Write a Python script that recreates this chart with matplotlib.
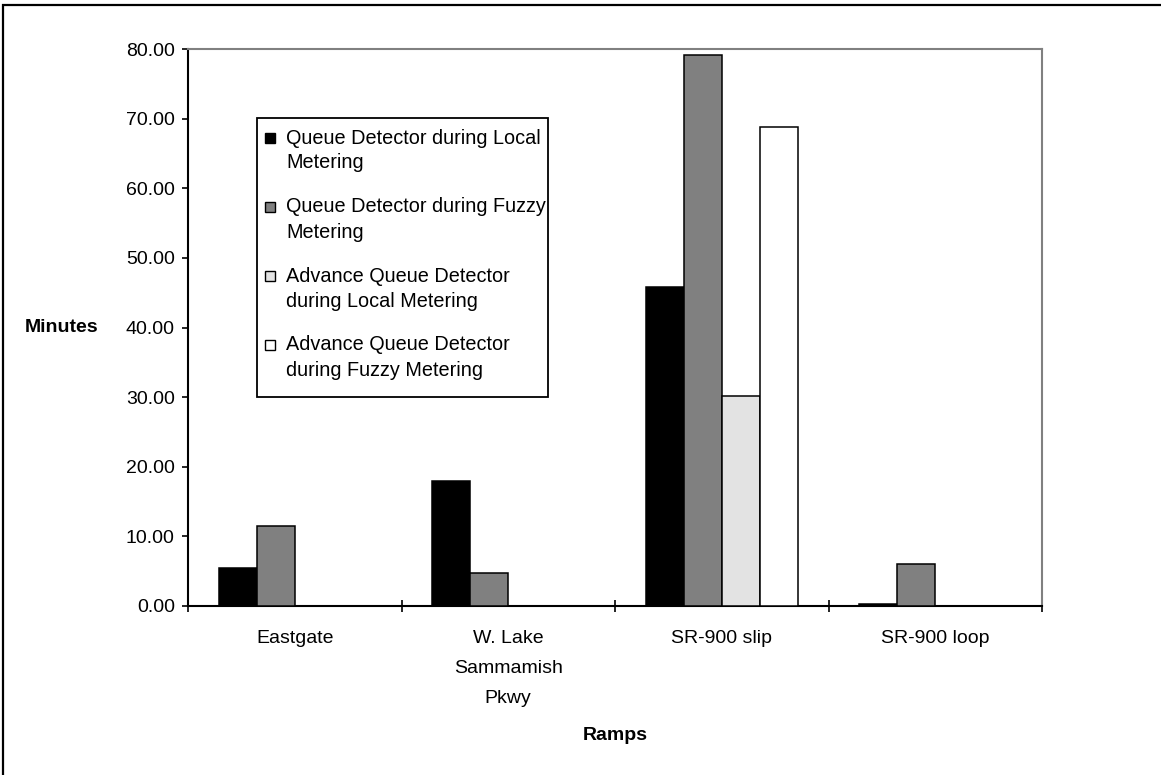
import matplotlib.pyplot as plt
import matplotlib
from matplotlib.patches import Rectangle
import numpy as np

matplotlib.rcParams['font.family'] = ['Liberation Sans', 'DejaVu Sans']

# data
categories = ['Eastgate', 'W. Lake\nSammamish\nPkwy', 'SR-900 slip', 'SR-900 loop']
series_names = ['Queue Detector during Local\nMetering',
                'Queue Detector during Fuzzy\nMetering',
                'Advance Queue Detector\nduring Local Metering',
                'Advance Queue Detector\nduring Fuzzy Metering']
q_local = [5.5, 17.9, 45.8, 0.3]
q_fuzzy = [11.5, 4.8, 79.2, 6.0]
adv_local = [0.0, 0.0, 30.2, 0.0]
adv_fuzzy = [0.0, 0.0, 68.8, 0.0]
colors = ['#000000', '#808080', '#e3e3e3', '#ffffff']

W, H = 1161, 775
fig = plt.figure(figsize=(W / 100, H / 100), dpi=100)

# outer frame (bottom and right run off the page)
fig.patches.append(Rectangle((3 / W, -0.1), 1.2, 1.1 - 5 / H, transform=fig.transFigure,
                             fill=False, edgecolor='black', linewidth=1.6, clip_on=False))

ax = fig.add_axes([188 / W, 1 - 606 / H, (1042 - 188) / W, (606 - 49) / H])

x = np.arange(len(categories))
w = 0.178
all_series = [q_local, q_fuzzy, adv_local, adv_fuzzy]
for i, vals in enumerate(all_series):
    ax.bar(x + (i - 1.5) * w, vals, w, color=colors[i], edgecolor='black',
           linewidth=1.1, zorder=3)

ax.set_xlim(-0.5, len(categories) - 0.5)
ax.set_ylim(0, 80)
ax.set_yticks(np.arange(0, 81, 10))
ax.set_yticklabels(['%.2f' % v for v in np.arange(0, 81, 10)], fontsize=14)
ax.tick_params(axis='y', direction='out', length=4.5, width=1.2, pad=5)

# category boundaries as major ticks, names as minor ticks
ax.set_xticks(np.arange(-0.5, len(categories), 1.0))
ax.set_xticklabels([])
ax.tick_params(axis='x', which='major', direction='inout', length=8, width=1.2)
ax.set_xticks(x, minor=True)
ax.set_xticklabels(categories, minor=True, fontsize=14, linespacing=2.0)
ax.tick_params(axis='x', which='minor', length=0, pad=17)

for s in ['left', 'bottom']:
    ax.spines[s].set_color('black')
    ax.spines[s].set_linewidth(1.5)
for s in ['top', 'right']:
    ax.spines[s].set_color('#808080')
    ax.spines[s].set_linewidth(1.5)

ax.set_xlabel('Ramps', fontsize=14, fontweight='bold')
ax.xaxis.set_label_coords(0.5, (1 - 735 / H - (1 - 606 / H)) / ((606 - 49) / H))
ax.xaxis.label.set_va('center')
ax.set_ylabel('Minutes', fontsize=14, fontweight='bold', rotation=0)
ax.yaxis.set_label_coords((62 - 188) / 854, 0.5)
ax.yaxis.label.set_va('center')
ax.yaxis.label.set_ha('center')

# legend box drawn by hand so the key squares sit on the first line
def fx(px):
    return px / W

def fy(py):
    return 1 - py / H

fig.patches.append(Rectangle((fx(257), fy(397)), fx(548) - fx(257), fy(118) - fy(397),
                             transform=fig.transFigure, facecolor='white',
                             edgecolor='black', linewidth=1.3, zorder=5))
for i, name in enumerate(series_names):
    y0 = 138 + i * 69
    fig.patches.append(Rectangle((fx(265), fy(y0 + 5)), fx(10), fy(0) - fy(10),
                                 transform=fig.transFigure, facecolor=colors[i],
                                 edgecolor='black', linewidth=1.0, zorder=6))
    for j, line in enumerate(name.split('\n')):
        fig.text(fx(286), fy(y0 + j * 25), line, fontsize=14.3, va='center', ha='left',
                 zorder=7)

plt.savefig('out.png', dpi=100)
